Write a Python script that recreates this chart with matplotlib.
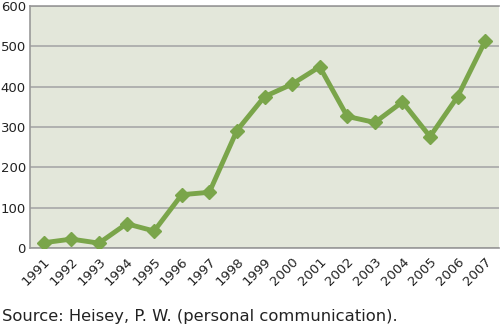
import matplotlib.pyplot as plt
import numpy as np

years = [str(y) for y in range(1991, 2008)]
values = [13, 22, 12, 60, 42, 132, 138, 291, 375, 406, 449, 326, 311, 362, 276, 375, 513]

green = '#7aa54a'
bg = '#e3e7da'

fig = plt.figure(figsize=(5, 3.25), dpi=100)
ax = fig.add_axes([0.06, 0.237, 0.938, 0.745])
ax.set_facecolor(bg)

x = np.arange(len(years))
ax.plot(x, values, color=green, lw=3.5, marker='D', ms=7.5, mec=green, mfc=green, zorder=3)

ax.set_xlim(-0.5, len(years) - 0.5)
ax.set_ylim(0, 600)
ax.set_yticks(range(0, 601, 100))
ax.yaxis.grid(True, color='#a8a8a8', lw=1.2)
ax.set_axisbelow(True)
ax.set_xticks(x)
ax.set_xticklabels(years, rotation=45, ha='right', rotation_mode='anchor', fontsize=8.5)
ax.tick_params(axis='both', length=0, labelsize=9.5, colors='#222222')
ax.tick_params(axis='y', pad=3)
ax.tick_params(axis='x', pad=5)

for s in ['top', 'bottom', 'left']:
    ax.spines[s].set_color('#999999')
    ax.spines[s].set_linewidth(1.2)
ax.spines['right'].set_visible(False)

fig.text(0.004, 0.012, 'Source: Heisey, P. W. (personal communication).', fontsize=11.8, color='#222222')

fig.savefig('out.png', dpi=100)
